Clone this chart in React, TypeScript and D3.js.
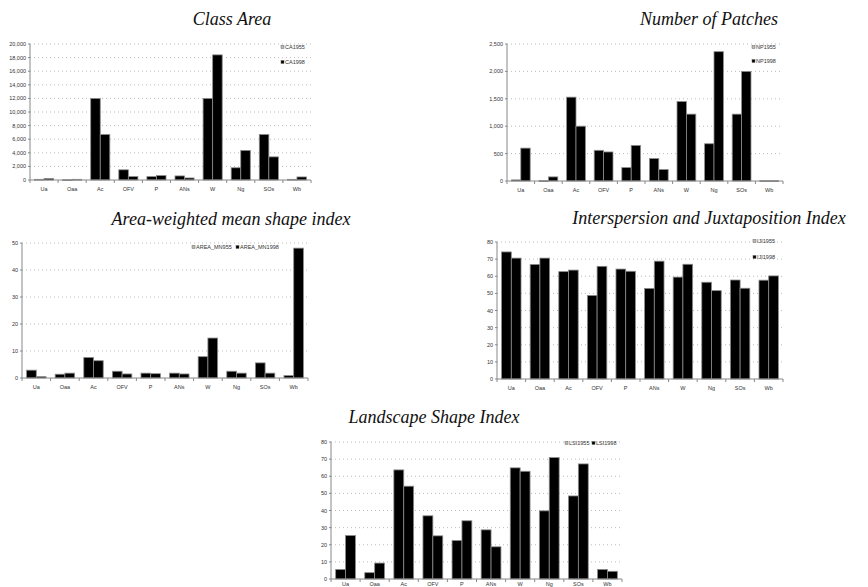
import React from 'react';
import * as d3 from 'd3';

// land-cover classes shared by every panel
const classes = ['Ua', 'Oaa', 'Ac', 'OFV', 'P', 'ANs', 'W', 'Ng', 'SOs', 'Wb'];

// Class Area
const ca1955 = [100, 30, 12000, 1500, 500, 600, 12000, 1800, 6700, 100];
const ca1998 = [220, 100, 6700, 500, 650, 300, 18400, 4350, 3400, 450];

// Number of Patches
const np1955 = [20, 5, 1530, 560, 245, 410, 1450, 680, 1220, 5];
const np1998 = [600, 75, 1000, 530, 650, 210, 1220, 2360, 2000, 5];

// Area-weighted mean shape index
const awmsi1955 = [2.9, 1.4, 7.6, 2.5, 1.8, 1.8, 7.9, 2.5, 5.6, 0.9];
const awmsi1998 = [0.5, 1.8, 6.4, 1.5, 1.6, 1.5, 14.8, 1.8, 1.8, 48.1];

// Interspersion and Juxtaposition Index
const iji1955 = [74.2, 66.9, 62.7, 48.8, 64.2, 52.9, 59.5, 56.5, 57.8, 57.7];
const iji1998 = [70.6, 70.6, 63.6, 65.8, 62.9, 68.8, 67.0, 51.6, 53.0, 60.2];

// Landscape Shape Index
const lsi1955 = [5.6, 3.7, 63.7, 36.9, 22.5, 28.7, 64.9, 39.8, 48.5, 5.6];
const lsi1998 = [25.4, 9.3, 54.2, 25.2, 34.0, 18.8, 62.9, 70.9, 67.2, 4.5];

const tickFont = '"Liberation Sans Narrow", "Liberation Sans", Arial, sans-serif';

type PanelProps = {
  title: string;
  titleX: number;
  titleY: number;
  left: number;
  right: number;
  top: number;
  bottom: number;
  yMax: number;
  yStep: number;
  a: number[];
  b: number[];
  legend: [string, string];
  legendPos: [number, number][];
  labelOffset?: number;
};

function BarPanel(p: PanelProps) {
  const x = d3.scaleBand<string>().domain(classes).range([p.left, p.right]).paddingInner(0.32).paddingOuter(0.16);
  const x2 = d3.scaleBand<string>().domain(['a', 'b']).range([0, x.bandwidth()]);
  const y = d3.scaleLinear().domain([0, p.yMax]).range([p.bottom, p.top]);
  const ticks = d3.range(0, p.yMax + p.yStep / 2, p.yStep);
  const fmt = d3.format(',');
  const step = x.step();
  const labelOffset = p.labelOffset ?? 11;

  return (
    <g>
      <text x={p.titleX} y={p.titleY} textAnchor="middle" fontFamily='"Liberation Serif", "Times New Roman", serif'
        fontStyle="italic" fontSize={18} fill="#111">{p.title}</text>

      {/* dotted gridlines */}
      {ticks.slice(1).map(t => (
        <line key={t} x1={p.left} x2={p.right} y1={y(t)} y2={y(t)} stroke="#aaa" strokeWidth={0.8} strokeDasharray="1,3" />
      ))}

      {/* y axis */}
      <line x1={p.left} x2={p.left} y1={p.top} y2={p.bottom} stroke="#888" strokeWidth={1} />
      {ticks.map(t => (
        <g key={t}>
          <line x1={p.left - 2} x2={p.left} y1={y(t)} y2={y(t)} stroke="#888" />
          <text x={p.left - 4} y={y(t) + 2} textAnchor="end" fontFamily={tickFont} fontSize={5.5} fill="#333">{fmt(t)}</text>
        </g>
      ))}

      {/* bars */}
      {classes.map((c, i) => (
        <g key={c}>
          {[p.a[i], p.b[i]].map((v, j) => (
            <rect key={j} x={(x(c) as number) + (x2(j === 0 ? 'a' : 'b') as number)} y={y(v)}
              width={x2.bandwidth()} height={Math.max(0.8, p.bottom - y(v))}
              fill="#000" stroke="#8c8c8c" strokeWidth={0.8} />
          ))}
          <text x={(x(c) as number) + x.bandwidth() / 2} y={p.bottom + labelOffset} textAnchor="middle"
            fontFamily={tickFont} fontSize={5.5} fill="#333">{c}</text>
        </g>
      ))}

      {/* x axis with ticks between categories */}
      <line x1={p.left} x2={p.right} y1={p.bottom} y2={p.bottom} stroke="#888" strokeWidth={1} />
      {d3.range(classes.length + 1).map(k => (
        <line key={k} x1={p.left + k * step} x2={p.left + k * step} y1={p.bottom} y2={p.bottom + 3} stroke="#888" />
      ))}

      {/* legend */}
      {p.legend.map((lab, j) => (
        <g key={lab} transform={`translate(${p.legendPos[j][0]},${p.legendPos[j][1]})`}>
          <rect x={0} y={-2.5} width={3} height={3} fill={j === 0 ? '#bbb' : '#000'} stroke="#666" strokeWidth={0.5} />
          <text x={4} y={1} fontFamily={tickFont} fontSize={5.5} fill="#333">{lab}</text>
        </g>
      ))}
    </g>
  );
}

export default function App() {
  return (
    <svg width={868} height={587} style={{ position: 'absolute', left: 0, top: 0, background: '#fff' }}>
      <BarPanel title="Class Area" titleX={232} titleY={25} left={30} right={311} top={44} bottom={180}
        yMax={20000} yStep={2000} a={ca1955} b={ca1998} legend={['CA1955', 'CA1998']}
        legendPos={[[281, 48], [281, 63]]} />
      <BarPanel title="Number of Patches" titleX={709} titleY={25} left={507} right={783} top={44} bottom={181}
        yMax={2500} yStep={500} a={np1955} b={np1998} legend={['NP1955', 'NP1998']}
        legendPos={[[752, 48], [752, 62]]} />
      <BarPanel title="Area-weighted mean shape index" titleX={231} titleY={225} left={22} right={308} top={243} bottom={378}
        yMax={50} yStep={10} a={awmsi1955} b={awmsi1998} legend={['AREA_MN955', 'AREA_MN1998']}
        legendPos={[[192, 248], [236, 248]]} />
      <BarPanel title="Interspersion and Juxtaposition Index" titleX={709} titleY={224} left={497} right={783} top={242} bottom={379}
        yMax={80} yStep={10} a={iji1955} b={iji1998} legend={['IJI1955', 'IJI1998']}
        legendPos={[[753, 242], [753, 258]]} />
      <BarPanel title="Landscape Shape Index" titleX={434} titleY={423} left={331} right={622} top={442} bottom={579}
        yMax={80} yStep={10} a={lsi1955} b={lsi1998} legend={['LSI1955', 'LSI1998']}
        legendPos={[[565, 444], [592, 444]]} labelOffset={7} />
    </svg>
  );
}
